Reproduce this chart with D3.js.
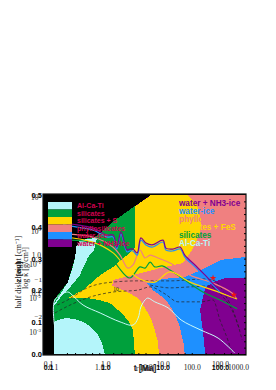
<!DOCTYPE html>
<html>
<head>
    <title></title>
    <meta charset="utf-8">
    <style>
        html, body { margin: 0; padding: 0; background: #fff; }
        svg { display: block; }
        .serif text, text.serif { font-family: 'Liberation Serif', serif; fill: #222; }
        .bold text { font-family: 'Liberation Sans', sans-serif; font-weight: 700; fill: #000; }
    </style>
</head>
<body>
<script src="https://d3js.org/d3.v7.min.js"></script>
<script>
    // all outlines are [log10 r, h]
    var purpleZone = [[-0.98,0],[-0.98,.17],[-0.68,.226],[-0.52,.305],[-0.50,.336],[-0.42,.358],[-0.05,.371],[0.02,.381],[0.34,.421],[0.77,.465],[1.12,.5],[3.17,.5],[3.17,0]];
    var blueZone = [[1.85,0],[1.82,.035],[1.77,.066],[1.73,.091],[1.66,.116],[1.57,.142],[1.49,.16],[1.34,.182],[1.16,.201],[1.03,.223],[1.38,.236],[1.85,.242],[2.20,.264],[2.63,.296],[3.17,.305],[3.17,.239],[2.74,.239],[2.46,.226],[2.29,.208],[2.18,.138],[2.24,.075],[2.29,0]];
    var pinkZone = [[1.29,0],[1.27,.038],[1.20,.075],[1.14,.104],[1.05,.129],[0.95,.154],[0.84,.176],[0.56,.198],[0.28,.214],[0.30,.233],[0.73,.248],[1.31,.27],[1.81,.286],[2.01,.327],[2.18,.381],[2.20,.421],[2.11,.469],[1.92,.5],[3.17,.5],[3.17,.305],[2.63,.296],[2.20,.264],[1.85,.242],[1.38,.236],[1.03,.223],[1.16,.201],[1.34,.182],[1.49,.16],[1.57,.142],[1.66,.116],[1.73,.091],[1.77,.066],[1.82,.035],[1.85,0]];
    var yellowZone = [[-0.68,.176],[-0.35,.201],[0.02,.248],[0.30,.274],[0.60,.311],[0.77,.336],[0.77,.465],[0.82,.469],[1.12,.5],[1.92,.5],[2.11,.469],[2.20,.421],[2.18,.381],[2.01,.327],[1.81,.286],[1.31,.27],[0.73,.248],[0.30,.233],[0.28,.214],[0.56,.198],[0.84,.176],[0.95,.154],[1.05,.129],[1.14,.104],[1.20,.075],[1.27,.038],[1.29,0],[0.77,0],[0.75,.035],[0.73,.075],[0.65,.10],[0.56,.116],[0.41,.138],[0.23,.16],[0,.17],[-0.26,.176]];
    var greenZone = [[-0.98,0],[-0.98,.17],[-0.68,.226],[-0.52,.305],[-0.50,.336],[-0.42,.358],[-0.05,.371],[0.02,.381],[0.34,.421],[0.77,.465],[0.77,.336],[0.60,.311],[0.30,.274],[0.02,.248],[-0.35,.201],[-0.68,.176],[-0.26,.176],[0,.17],[0.23,.16],[0.41,.138],[0.56,.116],[0.65,.10],[0.73,.075],[0.75,.035],[0.77,0]];
    var cyanTop = [[-0.98,.157],[-0.85,.186],[-0.68,.226],[-0.59,.264],[-0.52,.305],[-0.50,.336],[-0.42,.358],[-0.05,.365],[-0.11,.327],[-0.24,.305],[-0.42,.248],[-0.59,.217],[-0.85,.176],[-0.98,.151]];
    var cyanDome = [[-0.98,0],[-0.98,.101],[-0.85,.109],[-0.70,.113],[-0.52,.109],[-0.35,.101],[-0.20,.088],[-0.05,.066],[0.06,.035],[0.12,0]];

    var waterLine = [[-0.78,.412],[-0.48,.406],[-0.14,.396],[0.17,.374],[0.30,.374],[0.38,.336],[0.47,.384],[0.60,.327],[0.66,.33],[0.73,.33],[0.82,.318],[0.90,.365],[1.01,.349],[1.14,.343],[1.38,.358],[1.44,.333],[1.59,.33],[1.75,.336],[1.85,.311],[2.07,.28],[2.29,.248],[2.61,.201],[2.93,.179]];
    var iceLine = [[-0.78,.406],[-0.48,.399],[-0.14,.39],[0.17,.368],[0.30,.368],[0.38,.33],[0.47,.377],[0.60,.321],[0.66,.324],[0.73,.324],[0.82,.311],[0.90,.358],[1.01,.343],[1.14,.336],[1.38,.352],[1.44,.327],[1.59,.324],[1.75,.33],[1.85,.305],[2.07,.274],[2.29,.242],[2.61,.195]];
    var phylloLine = [[-0.78,.377],[-0.14,.368],[0.30,.336],[0.45,.311],[0.62,.27],[0.73,.28],[0.88,.327],[0.99,.302],[1.10,.311],[1.27,.302],[1.53,.286],[1.96,.248],[2.46,.223],[2.87,.192],[2.96,.176]];
    var sulfurLine = [[-0.78,.368],[-0.14,.352],[0.30,.318],[0.62,.264],[0.88,.236],[1.20,.226],[1.53,.258],[1.96,.226],[2.46,.201],[2.98,.173]];
    var silicateLine = [[-0.78,.358],[-0.14,.349],[0.30,.296],[0.41,.274],[0.66,.239],[0.88,.274],[0.99,.27],[1.10,.289],[1.20,.274],[1.36,.277],[1.53,.264],[2.24,.195],[2.61,.17],[2.98,.142]];
    var refractoryLine = [[-0.96,.082],[-0.96,.17],[-0.68,.195],[-0.59,.186],[-0.35,.154],[0.02,.129],[0.45,.101],[0.73,.091],[0.84,.113],[0.90,.148],[0.99,.17],[1.05,.176],[1.20,.164],[1.49,.145],[1.77,.107],[2.20,.075],[2.57,.05],[2.93,.003]];

    var contourA = [[-0.91,.154],[-0.68,.17],[-0.26,.208],[0.28,.226],[0.84,.23],[1.53,.23],[2.29,.236],[2.50,.23],[2.72,.186],[2.93,.123],[3.09,.044]];
    var contourB = [[-0.96,.129],[-0.63,.154],[-0.20,.179],[0.30,.195],[0.84,.201],[1.10,.211],[1.42,.189],[1.70,.164],[2.20,.164],[2.46,.17],[2.61,.107],[2.78,.044],[2.87,.003]];
    var contourC = [[1.10,.217],[1.53,.208],[1.96,.211],[2.39,.214],[2.66,.182],[2.87,.138],[3.04,.075]];

    var starPoints = [[2.46,.239],[2.91,.186]];

    var legendNames = ['Al-Ca-Ti', 'silicates', 'silicates + S', 'phyllosilicates', 'water-ice', 'water + NH3-ice'];
    var legendColors = ['#b4f5fa', '#00a03c', '#ffd700', '#f08080', '#1e90ff', '#800090'];
    var lineNames = ['water + NH3-ice', 'water-ice', 'phyllosilicates', 'silicates + FeS', 'silicates', 'Al-Ca-Ti'];
    var lineLabelColors = ['#800090', '#1e90ff', '#f08080', '#ffd700', '#00a03c', '#b4f5fa'];

    var xTicks = [0.1, 1, 10, 100, 1000];
    var xTicksBold = [0.1, 1, 10, 100];
    var hTicks = [0, 0.1, 0.2, 0.3, 0.4, 0.5];
    var logTicks = [0.1, 1];
    var expTicks = [1, 0, -1, -2, -3];
    var smallExpTicks = [-1, -2];

    var svg = d3.select('body').append('svg')
        .attr('width', 276)
        .attr('height', 390);

    var x = d3.scaleLog().domain([0.1, 1000]).range([53, 238]);
    var x2 = d3.scaleLog().domain([0.1, 100]).range([48, 220]);
    var y = d3.scaleLinear().domain([0, 0.5]).range([354, 195]);
    var yLog = d3.scaleLog().domain([0.01, 10]).range([332, 216]);

    var frame = { left: 43, right: 246, top: 194, bottom: 355 };

    var path = d3.line()
        .x(function (d) { return x(Math.pow(10, d[0])); })
        .y(function (d) { return y(d[1]); })
        .curve(d3.curveCatmullRom.alpha(0.5));
    var area = d3.line()
        .x(function (d) { return x(Math.pow(10, d[0])); })
        .y(function (d) { return y(d[1]); })
        .curve(d3.curveLinearClosed);
    var smooth = d3.line()
        .x(function (d) { return x(Math.pow(10, d[0])); })
        .y(function (d) { return y(d[1]); })
        .curve(d3.curveMonotoneX);

    svg.append('rect')
        .attr('x', frame.left)
        .attr('y', frame.top)
        .attr('width', frame.right - frame.left)
        .attr('height', frame.bottom - frame.top)
        .attr('fill', '#000');

    var zones = [
        [purpleZone, legendColors[5]],
        [blueZone, legendColors[4]],
        [pinkZone, legendColors[3]],
        [yellowZone, legendColors[2]],
        [greenZone, legendColors[1]],
        [cyanTop, legendColors[0]],
        [cyanDome, legendColors[0]]
    ];
    svg.append('g').selectAll('path').data(zones).enter().append('path')
        .attr('d', function (d) { return area(d[0]); })
        .attr('fill', function (d) { return d[1]; })
        .attr('shape-rendering', 'crispEdges');

    // dashed temperature contours
    svg.append('g').selectAll('path').data([contourA, contourB, contourC]).enter().append('path')
        .attr('d', smooth)
        .attr('fill', 'none')
        .attr('stroke', '#222')
        .attr('stroke-width', 0.7)
        .attr('stroke-dasharray', '3,2.2');

    svg.append('text').attr('class', 'serif')
        .attr('x', x(2)).attr('y', y(0.198))
        .attr('font-size', 5.5)
        .text('10');

    var iceLines = [
        [refractoryLine, '#c8fafa', 1],
        [silicateLine, '#00a03c', 1.2],
        [sulfurLine, '#ffd700', 1.2],
        [phylloLine, '#f08080', 1.2],
        [iceLine, '#1e90ff', 1.2],
        [waterLine, '#800090', 1.2]
    ];
    svg.append('g').selectAll('path').data(iceLines).enter().append('path')
        .attr('d', function (d) { return path(d[0]); })
        .attr('fill', 'none')
        .attr('stroke', function (d) { return d[1]; })
        .attr('stroke-width', function (d) { return d[2]; });

    svg.append('g').selectAll('path').data(starPoints).enter().append('path')
        .attr('d', d3.symbol().type(d3.symbolStar).size(14))
        .attr('fill', '#f01414')
        .attr('transform', function (d) {
            return 'translate(' + x(Math.pow(10, d[0])) + ',' + y(d[1]) + ')';
        });

    // legend boxes
    var swatch = d3.scaleBand().domain(legendNames).range([202, 247]);
    svg.append('g').selectAll('rect').data(legendNames).enter().append('rect')
        .attr('x', 48)
        .attr('y', function (d) { return swatch(d); })
        .attr('width', 24)
        .attr('height', swatch.bandwidth())
        .attr('fill', function (d, i) { return legendColors[i]; });
    svg.append('g').selectAll('text').data(legendNames).enter().append('text')
        .attr('x', 77)
        .attr('y', function (d) { return swatch(d) + swatch.bandwidth() / 2 + 2.5; })
        .attr('font-family', 'Liberation Sans')
        .attr('font-weight', 700)
        .attr('font-size', 7)
        .attr('fill', '#d2004f')
        .text(function (d) { return d; });

    var lineRow = d3.scalePoint().domain(lineNames).range([205.5, 246]);
    svg.append('g').selectAll('text').data(lineNames).enter().append('text')
        .attr('x', 179)
        .attr('y', function (d) { return lineRow(d); })
        .attr('font-family', 'Liberation Sans')
        .attr('font-weight', 700)
        .attr('font-size', 8.2)
        .attr('fill', function (d, i) { return lineLabelColors[i]; })
        .text(function (d) { return d; });

    // frame ticks
    svg.append('rect')
        .attr('x', frame.left)
        .attr('y', frame.top)
        .attr('width', frame.right - frame.left)
        .attr('height', frame.bottom - frame.top)
        .attr('fill', 'none')
        .attr('stroke', '#111')
        .attr('stroke-width', 1.2);

    var inner = d3.range(0, 0.5, 0.02);
    svg.append('g')
        .attr('transform', 'translate(' + frame.right + ',0)')
        .call(d3.axisLeft(y).tickValues(inner).tickSize(2).tickFormat(''))
        .call(function (g) { g.select('.domain').remove(); });
    svg.append('g')
        .attr('transform', 'translate(0,' + frame.bottom + ')')
        .call(d3.axisTop(x).tickValues([0.2,0.3,0.5,0.7,1,2,3,5,7,10,20,30,50,70,100,200,300,500,700,1000]).tickSize(2).tickFormat(''))
        .call(function (g) { g.select('.domain').remove(); });

    // overprinted axes, bottom
    function plain(g) {
        g.select('.domain').remove();
        g.selectAll('line').remove();
    }
    svg.append('g').attr('class', 'serif')
        .attr('transform', 'translate(0,' + (frame.bottom + 1) + ')')
        .call(d3.axisBottom(x).tickValues(xTicks).tickFormat(d3.format('.1f')))
        .call(plain)
        .selectAll('text').attr('font-size', 7.6);
    svg.append('g').attr('class', 'serif')
        .attr('transform', 'translate(0,' + (frame.bottom - 2) + ')')
        .call(d3.axisBottom(x2).tickValues(xTicksBold).tickFormat(d3.format('.1f')))
        .call(plain)
        .selectAll('text').attr('font-size', 7.6);
    svg.append('g').attr('class', 'bold')
        .attr('transform', 'translate(0,' + (frame.bottom + 1) + ')')
        .call(d3.axisBottom(x2).tickValues(xTicksBold).tickFormat(d3.format('.1f')))
        .call(plain)
        .selectAll('text').attr('font-size', 7);

    // overprinted axes, left
    svg.append('g').attr('class', 'bold')
        .attr('transform', 'translate(' + (frame.left + 1) + ',0)')
        .call(d3.axisLeft(y).tickValues(hTicks).tickFormat(d3.format('.1f')))
        .call(plain)
        .selectAll('text').attr('font-size', 7.5).attr('x', -2);
    svg.append('g').attr('class', 'serif')
        .attr('transform', 'translate(' + (frame.left + 1) + ',0)')
        .call(d3.axisLeft(yLog).tickValues(logTicks).tickFormat(d3.format('.1f')))
        .call(plain)
        .selectAll('text').attr('font-size', 7.5).attr('x', -3);

    var expScale = d3.scaleLinear().domain([1, -3]).range([197, 332]);
    var expAxis = svg.append('g').attr('class', 'serif')
        .attr('transform', 'translate(' + (frame.left + 1) + ',0)')
        .call(d3.axisLeft(expScale).tickValues(expTicks).tickFormat(''))
        .call(plain);
    expAxis.selectAll('.tick text')
        .attr('x', -3)
        .attr('font-size', 7.5)
        .each(function (d) {
            var t = d3.select(this);
            t.append('tspan').text('10');
            t.append('tspan').attr('dy', -3).attr('font-size', 5).text(d);
        });

    var smallScale = d3.scaleLinear().domain([-1, -2]).range([279, 316]);
    svg.append('g').attr('class', 'serif')
        .attr('transform', 'translate(' + (frame.left + 1) + ',0)')
        .call(d3.axisLeft(smallScale).tickValues(smallExpTicks).tickFormat(d3.format('d')))
        .call(plain)
        .selectAll('text').attr('font-size', 7).attr('x', -2);

    // axis titles, printed over each other as in the source
    function title(px, py, rot, txt, size, bold) {
        svg.append('text')
            .attr('transform', 'translate(' + px + ',' + py + ') rotate(' + rot + ')')
            .attr('text-anchor', 'middle')
            .attr('font-family', bold ? 'Liberation Sans' : 'Liberation Serif')
            .attr('font-weight', bold ? 700 : 400)
            .attr('font-size', size)
            .attr('fill', '#222')
            .text(txt);
    }
    title(21, 272, -90, 'half disk height [cm\u207B\u00B9]', 8, false);
    title(28, 268, -90, 'log \u03BA [g/cm\u00B3]', 8, false);
    title(21, 272, -90, 'z [au]', 8, true);
    title(145, 371, 0, 'r [au]', 8.5, false);
    title(145, 371, 0, 't [Ma]', 8.5, true);
</script>
</body>
</html>
